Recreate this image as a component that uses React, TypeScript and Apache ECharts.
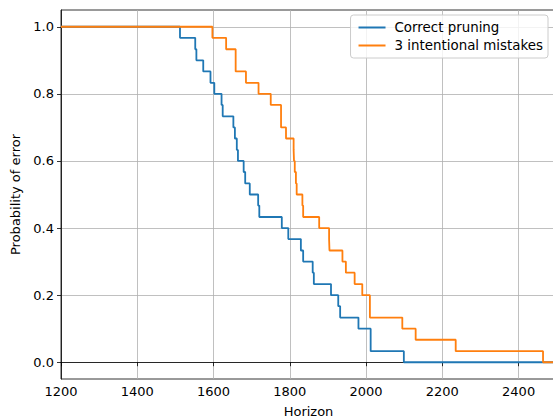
import React, { useEffect, useRef } from "react";
import * as echarts from "echarts";

const seriesNames = ["Correct pruning", "3 intentional mistakes"];
const xTicks = [1200, 1400, 1600, 1800, 2000, 2200, 2400];
const yTicks = [0, 0.2, 0.4, 0.6, 0.8, 1.0];

const correctX = [1200, 1512, 1552, 1555, 1573, 1592, 1602, 1621, 1624, 1652, 1656, 1661, 1664, 1679, 1683, 1695, 1717, 1720, 1779, 1796, 1829, 1835, 1860, 1863, 1908, 1927, 1932, 1980, 2012, 2099, 2498];
const correctY = [1, 0.967, 0.933, 0.9, 0.867, 0.833, 0.8, 0.767, 0.733, 0.7, 0.667, 0.633, 0.6, 0.567, 0.533, 0.5, 0.467, 0.433, 0.4, 0.367, 0.333, 0.3, 0.267, 0.233, 0.2, 0.167, 0.133, 0.1, 0.033, 0, 0];

const mistakesX = [1200, 1597, 1633, 1658, 1685, 1718, 1750, 1777, 1790, 1810, 1811, 1813, 1816, 1818, 1833, 1835, 1877, 1903, 1904, 1938, 1947, 1970, 1990, 2010, 2095, 2130, 2235, 2464, 2498];
const mistakesY = [1, 0.967, 0.933, 0.867, 0.833, 0.8, 0.767, 0.7, 0.667, 0.633, 0.6, 0.567, 0.533, 0.5, 0.467, 0.433, 0.4, 0.367, 0.333, 0.3, 0.267, 0.233, 0.2, 0.133, 0.1, 0.067, 0.033, 0, 0];

const FONT = "DejaVu Sans";

export default function App() {
  const ref = useRef<HTMLDivElement>(null);
  useEffect(() => {
    document.body.style.margin = "0";
    const chart = echarts.init(ref.current!, null, { renderer: "svg" });
    const toPairs = (xs: number[], ys: number[]) => xs.map((x, i) => [x, ys[i]]);
    chart.setOption({
      animation: false,
      grid: {
        left: 61,
        right: -3,
        top: 10,
        bottom: 40,
        outerBoundsMode: "none",
        containLabel: false,
        show: true,
        borderColor: "#000",
        borderWidth: 0.8,
        backgroundColor: "transparent",
      },
      legend: {
        data: seriesNames,
        orient: "vertical",
        right: 5,
        top: 15,
        icon: "rect",
        itemWidth: 27,
        itemHeight: 2,
        itemGap: 5,
        padding: [6, 5, 6, 8],
        backgroundColor: "rgba(255,255,255,0.8)",
        borderColor: "#cccccc",
        borderWidth: 1,
        borderRadius: 3,
        textStyle: { fontFamily: FONT, fontSize: 13.4, color: "#000", padding: [0, 0, 0, 4] },
      },
      xAxis: {
        type: "value",
        min: xTicks[0],
        max: 2498,
        interval: 200,
        name: "Horizon",
        nameLocation: "middle",
        nameGap: 26,
        nameTextStyle: { fontFamily: FONT, fontSize: 13, color: "#000" },
        axisLine: { show: true, lineStyle: { color: "#000", width: 0.8 } },
        axisTick: { show: true, length: 4, lineStyle: { color: "#000", width: 0.8 } },
        axisLabel: {
          fontFamily: FONT,
          fontSize: 13,
          color: "#000",
          margin: 6,
          showMaxLabel: false,
          formatter: (v: number) => String(v),
        },
        splitLine: { show: true, lineStyle: { color: "#b0b0b0", width: 0.8 } },
      },
      yAxis: {
        type: "value",
        min: -0.05,
        max: 1.05,
        name: "Probability of error",
        nameLocation: "middle",
        nameGap: 38,
        nameTextStyle: { fontFamily: FONT, fontSize: 13, color: "#000" },
        axisLine: { show: true, lineStyle: { color: "#000", width: 0.8 } },
        axisTick: { show: true, length: 4, customValues: yTicks, lineStyle: { color: "#000", width: 0.8 } },
        axisLabel: {
          fontFamily: FONT,
          fontSize: 13,
          color: "#000",
          margin: 7,
          customValues: yTicks,
          formatter: (v: number) => v.toFixed(1),
        },
        splitLine: { show: true, lineStyle: { color: "#b0b0b0", width: 0.8 } },
      },
      series: [
        {
          name: seriesNames[0],
          type: "line",
          step: "end",
          symbol: "none",
          data: toPairs(correctX, correctY),
          lineStyle: { color: "#1f77b4", width: 1.8 },
          itemStyle: { color: "#1f77b4" },
        },
        {
          name: seriesNames[1],
          type: "line",
          step: "end",
          symbol: "none",
          data: toPairs(mistakesX, mistakesY),
          lineStyle: { color: "#ff7f0e", width: 1.8 },
          itemStyle: { color: "#ff7f0e" },
        },
      ],
    });
    return () => chart.dispose();
  }, []);
  return <div ref={ref} style={{ width: 553, height: 419 }} />;
}
